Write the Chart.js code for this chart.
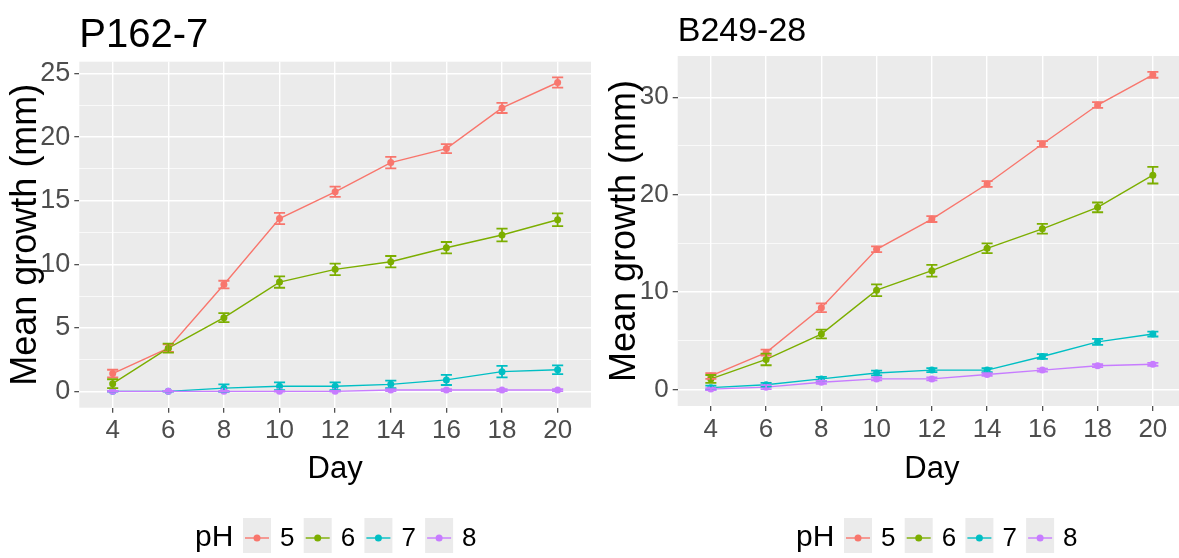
<!DOCTYPE html>
<html>
<head>
<meta charset="utf-8">
<script src="https://cdn.jsdelivr.net/npm/chart.js@4/dist/chart.umd.min.js"></script>
<style>
  html, body { margin: 0; padding: 0; background: #fff; overflow: hidden; }
  body { width: 1179px; height: 558px; position: relative; }
  canvas { position: absolute; top: 0; }
  #leftChart { left: 0; }
  #rightChart { left: 590px; }
</style>
</head>
<body>
<canvas id="leftChart" width="600" height="558"></canvas>
<canvas id="rightChart" width="600" height="558"></canvas>
<script>
const days = [4, 6, 8, 10, 12, 14, 16, 18, 20];
const phLevels = ['5', '6', '7', '8'];
const phColors = ['#F8766D', '#7CAE00', '#00BFC4', '#C77CFF'];

// P162-7: mean growth (mm) and standard error per pH
const p162Ph5 = [1.4, 3.4, 8.4, 13.6, 15.7, 18.0, 19.1, 22.3, 24.3];
const p162Ph6 = [0.6, 3.4, 5.8, 8.6, 9.6, 10.2, 11.3, 12.3, 13.5];
const p162Ph7 = [0.0, 0.0, 0.25, 0.4, 0.4, 0.55, 0.9, 1.55, 1.7];
const p162Ph8 = [0.0, 0.0, 0.0, 0.0, 0.0, 0.1, 0.1, 0.1, 0.1];
const p162Se5 = [0.3, 0.3, 0.3, 0.45, 0.4, 0.45, 0.35, 0.4, 0.4];
const p162Se6 = [0.35, 0.35, 0.35, 0.45, 0.45, 0.45, 0.45, 0.5, 0.5];
const p162Se7 = [0.03, 0.03, 0.3, 0.3, 0.3, 0.3, 0.4, 0.45, 0.35];
const p162Se8 = [0.03, 0.03, 0.03, 0.03, 0.03, 0.08, 0.08, 0.08, 0.08];

// B249-28: mean growth (mm) and standard error per pH
const b249Ph5 = [1.4, 3.8, 8.4, 14.4, 17.5, 21.1, 25.2, 29.2, 32.3];
const b249Ph6 = [1.1, 3.1, 5.7, 10.2, 12.2, 14.5, 16.5, 18.7, 22.0];
const b249Ph7 = [0.2, 0.5, 1.1, 1.7, 2.0, 2.0, 3.4, 4.9, 5.7];
const b249Ph8 = [0.05, 0.25, 0.75, 1.1, 1.1, 1.55, 2.0, 2.45, 2.6];
const b249Se5 = [0.3, 0.3, 0.45, 0.3, 0.3, 0.3, 0.3, 0.3, 0.3];
const b249Se6 = [0.4, 0.6, 0.45, 0.6, 0.6, 0.5, 0.5, 0.5, 0.85];
const b249Se7 = [0.2, 0.2, 0.2, 0.25, 0.2, 0.2, 0.25, 0.3, 0.25];
const b249Se8 = [0.1, 0.2, 0.15, 0.15, 0.15, 0.15, 0.15, 0.15, 0.15];

const p162YTicks = [0, 5, 10, 15, 20, 25];
const b249YTicks = [0, 10, 20, 30];

const FONT = "'Liberation Sans', Arial, Helvetica, sans-serif";
const PANEL_BG = '#EBEBEB';
const TICK_TEXT = '#4D4D4D';

// grey panel, error bars, titles and the bottom legend
const ggDecor = {
  id: 'ggDecor',
  beforeDraw(chart) {
    const { ctx, chartArea: a } = chart;
    ctx.save();
    ctx.fillStyle = PANEL_BG;
    ctx.fillRect(a.left, a.top, a.right - a.left, a.bottom - a.top);
    ctx.restore();
  },
  afterDatasetsDraw(chart) {
    const { ctx, scales } = chart;
    const x = scales.x, y = scales.y;
    const half = (x.getPixelForValue(2) - x.getPixelForValue(0)) * 0.1;
    ctx.save();
    ctx.lineWidth = 1.8;
    chart.data.datasets.forEach(ds => {
      ctx.strokeStyle = ds.borderColor;
      ds.data.forEach((pt, i) => {
        const px = x.getPixelForValue(pt.x);
        const top = y.getPixelForValue(pt.y + ds.se[i]);
        const bot = y.getPixelForValue(pt.y - ds.se[i]);
        ctx.beginPath();
        ctx.moveTo(px, top); ctx.lineTo(px, bot);
        ctx.moveTo(px - half, top); ctx.lineTo(px + half, top);
        ctx.moveTo(px - half, bot); ctx.lineTo(px + half, bot);
        ctx.stroke();
      });
    });
    ctx.restore();
  },
  afterDraw(chart, args, opts) {
    const { ctx, chartArea: a } = chart;
    ctx.save();
    ctx.fillStyle = '#000';

    // panel title
    ctx.font = opts.titleSize + 'px ' + FONT;
    ctx.textAlign = 'left';
    ctx.textBaseline = 'alphabetic';
    ctx.fillText(opts.title, a.left, opts.titleBaseline);

    // axis titles
    ctx.font = '31px ' + FONT;
    ctx.textAlign = 'center';
    ctx.fillText('Day', (a.left + a.right) / 2, 478);
    ctx.save();
    ctx.translate(a.left - 53, (a.top + a.bottom) / 2);
    ctx.rotate(-Math.PI / 2);
    ctx.font = '36px ' + FONT;
    ctx.textBaseline = 'middle';
    ctx.fillText('Mean growth (mm)', 0, 0);
    ctx.restore();

    // legend
    const ly = 538;
    ctx.textBaseline = 'middle';
    ctx.textAlign = 'left';
    ctx.font = '30px ' + FONT;
    ctx.fillText('pH', opts.legendX, ly);
    let bx = opts.legendX + 48;
    chart.data.datasets.forEach(ds => {
      ctx.fillStyle = PANEL_BG;
      ctx.fillRect(bx, 518, 28, 35);
      ctx.strokeStyle = ds.borderColor;
      ctx.lineWidth = 1.4;
      ctx.beginPath();
      ctx.moveTo(bx + 2, ly); ctx.lineTo(bx + 26, ly);
      ctx.stroke();
      ctx.fillStyle = ds.borderColor;
      ctx.beginPath();
      ctx.arc(bx + 14, ly, 3.5, 0, Math.PI * 2);
      ctx.fill();
      ctx.fillStyle = '#000';
      ctx.font = '26px ' + FONT;
      ctx.fillText(ds.label, bx + 37, ly + 1);
      bx += 60.7;
    });
    ctx.restore();
  }
};

function buildChart(canvasId, series, errors, yTicks, decor, area) {
  const datasets = series.map((vals, i) => ({
    label: phLevels[i],
    data: days.map((d, j) => ({ x: d, y: vals[j] })),
    se: errors[i],
    borderColor: phColors[i],
    backgroundColor: phColors[i],
    borderWidth: 1.4,
    pointRadius: 3.5,
    pointBorderWidth: 0,
    tension: 0,
    order: series.length - i
  }));

  // y limits: data range (with error bars) expanded by 5 %
  let lo = Infinity, hi = -Infinity;
  series.forEach((vals, i) => vals.forEach((v, j) => {
    lo = Math.min(lo, v - errors[i][j]);
    hi = Math.max(hi, v + errors[i][j]);
  }));
  const pad = (hi - lo) * 0.05;

  // minor gridlines halfway between the labelled ones
  const yMinor = yTicks.slice(1).map((v, i) => (v + yTicks[i]) / 2);
  const step = days[1] - days[0];
  const canvas = document.getElementById(canvasId);

  return new Chart(canvas.getContext('2d'), {
    type: 'line',
    data: { datasets },
    plugins: [ggDecor],
    options: {
      responsive: false,
      animation: false,
      devicePixelRatio: 1,
      layout: { padding: { top: area.top, right: canvas.width - area.right, left: 0, bottom: 0 } },
      plugins: {
        legend: { display: false },
        tooltip: { enabled: false },
        ggDecor: decor
      },
      scales: {
        x: {
          type: 'linear',
          min: days[0] - 0.6 * step,
          max: days[days.length - 1] + 0.6 * step,
          afterBuildTicks: s => { s.ticks = days.map(v => ({ value: v })); },
          afterFit: s => { s.height = canvas.height - area.bottom; },
          border: { display: false },
          grid: { color: '#FFFFFF', lineWidth: 1.4, tickColor: '#333333', tickLength: 5, tickWidth: 1.1 },
          ticks: { color: TICK_TEXT, font: { family: FONT, size: 26 }, padding: 3, maxRotation: 0, autoSkip: false }
        },
        y: {
          type: 'linear',
          min: lo - pad,
          max: hi + pad,
          afterBuildTicks: s => {
            s.ticks = yTicks.map(v => ({ value: v }))
              .concat(yMinor.map(v => ({ value: v, minor: true })));
          },
          afterFit: s => { s.width = area.left; },
          border: { display: false },
          grid: {
            color: '#FFFFFF',
            lineWidth: c => (c.tick && c.tick.minor ? 0.7 : 1.4),
            tickColor: c => (c.tick && c.tick.minor ? 'rgba(0,0,0,0)' : '#333333'),
            tickLength: 5,
            tickWidth: 1.1
          },
          ticks: {
            color: TICK_TEXT,
            font: { family: FONT, size: decor.yTickSize },
            padding: 4,
            autoSkip: false,
            callback: (v, i, t) => (t[i].minor ? '' : String(v))
          }
        }
      }
    }
  });
}

buildChart('leftChart',
  [p162Ph5, p162Ph6, p162Ph7, p162Ph8],
  [p162Se5, p162Se6, p162Se7, p162Se8],
  p162YTicks,
  { title: 'P162-7', titleSize: 40, titleBaseline: 47, legendX: 195, yTickSize: 27 },
  { left: 79.3, top: 61.7, right: 591, bottom: 407.7 });

buildChart('rightChart',
  [b249Ph5, b249Ph6, b249Ph7, b249Ph8],
  [b249Se5, b249Se6, b249Se7, b249Se8],
  b249YTicks,
  { title: 'B249-28', titleSize: 34, titleBaseline: 41, legendX: 206, yTickSize: 26 },
  { left: 87.7, top: 56, right: 598, bottom: 406 });
</script>
</body>
</html>
